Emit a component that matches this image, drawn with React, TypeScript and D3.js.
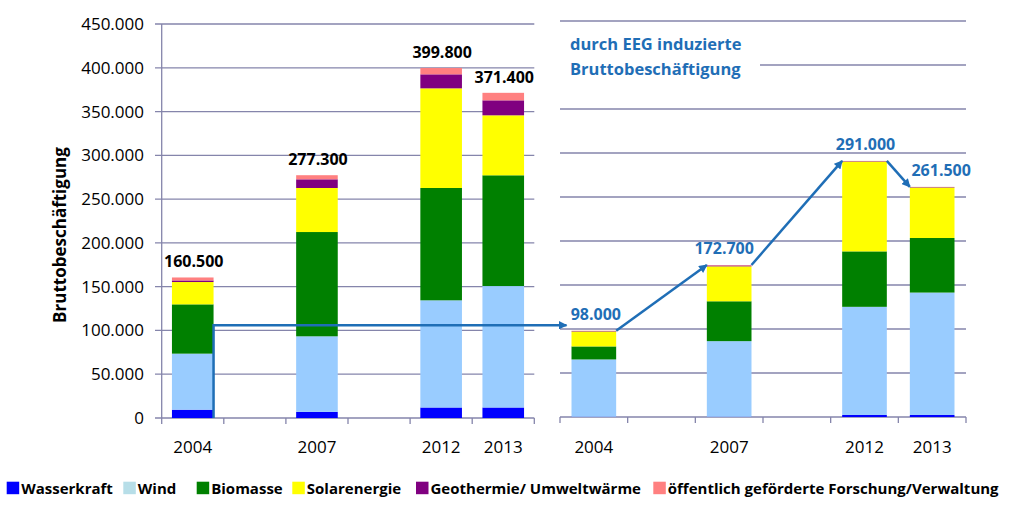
import React from "react";
import * as d3 from "d3";

// ---------- data ----------
const seriesKeys = ["wasser", "wind", "biomasse", "solar", "geo", "forschung"];
const seriesNames = [
  "Wasserkraft",
  "Wind",
  "Biomasse",
  "Solarenergie",
  "Geothermie/ Umweltwärme",
  "öffentlich geförderte Forschung/Verwaltung",
];
const barColors = ["#0000FF", "#99CCFF", "#008000", "#FFFF00", "#800080", "#FF8080"];
const legendColors = ["#0000FF", "#B7DEE8", "#008000", "#FFFF00", "#800080", "#FF8080"];

const slots = ["2004", "gap1", "2007", "gap2", "2012", "2013"];
const years = ["2004", "2007", "2012", "2013"];

// total gross employment from renewable energies (left panel)
const wasserLeft = [9500, 7000, 12000, 12000];
const windLeft = [64000, 86300, 122400, 138700];
const biomasseLeft = [56300, 119100, 128300, 126500];
const solarLeft = [25500, 50300, 113800, 68500];
const geoLeft = [1800, 9900, 16000, 17100];
const forschungLeft = [3400, 4700, 7300, 8600];
const totalsLeft = [160500, 277300, 399800, 371400];

// EEG-induced gross employment (right panel)
const wasserRight = [300, 300, 2300, 2300];
const windRight = [65100, 85900, 122900, 139100];
const biomasseRight = [14800, 45300, 63000, 62000];
const solarRight = [17000, 39700, 102100, 57400];
const geoRight = [500, 1000, 500, 500];
const forschungRight = [300, 500, 200, 200];
const totalsRight = [98000, 172700, 291000, 261500];

const yTicks = [0, 50000, 100000, 150000, 200000, 250000, 300000, 350000, 400000, 450000];
const arrowLevel = 106000; // level of the connector from the left to the right panel

const yAxisTitle = "Bruttobeschäftigung";
const panelTitle = ["durch EEG induzierte", "Bruttobeschäftigung"];

// ---------- layout ----------
const W = 1012;
const H = 508;
const FONT = "'Open Sans', sans-serif";
const GRID = "#8585AB";
const BLUE = "#1F6EB6";
const legendX = [6.7, 123.3, 196.7, 292.3, 416, 653.3];
const rightLabelDx = [2, -5, 1, 9];

const de = d3.formatLocale({ decimal: ",", thousands: ".", grouping: [3], currency: ["", "€"] });
const fmt = de.format(",.0f");

function buildTable(cols: number[][]) {
  return years.map((y, i) => {
    const row: any = { year: y };
    seriesKeys.forEach((k, j) => (row[k] = cols[j][i]));
    return row;
  });
}

const leftTable = buildTable([wasserLeft, windLeft, biomasseLeft, solarLeft, geoLeft, forschungLeft]);
const rightTable = buildTable([wasserRight, windRight, biomasseRight, solarRight, geoRight, forschungRight]);

export default function App() {
  const xL = d3.scaleBand<string>().domain(slots).range([161.7, 534.3]).paddingInner(0.33).paddingOuter(0.165);
  const yL = d3.scaleLinear().domain([0, 450000]).range([418, 24]);
  const xR = d3.scaleBand<string>().domain(slots).range([560, 966]).paddingInner(0.34).paddingOuter(0.17);
  const yR = d3.scaleLinear().domain([0, 450000]).range([417, 21]);

  const stack = d3.stack<any>().keys(seriesKeys);
  const stL = stack(leftTable);
  const stR = stack(rightTable);

  const stepL = xL.step();
  const stepR = xR.step();
  const bwL = xL.bandwidth();
  const bwR = xR.bandwidth();
  const boundsL = d3.range(slots.length + 1).map((i) => 161.7 + i * stepL);
  const boundsR = d3.range(slots.length + 1).map((i) => 560 + i * stepR);

  const bars = (st: any[], x: any, y: any, bw: number, prefix: string) =>
    st.map((s, si) =>
      s.map((d: any, i: number) => (
        <rect
          key={`${prefix}-${si}-${i}`}
          x={x(d.data.year)}
          y={y(d[1])}
          width={bw}
          height={Math.max(0, y(d[0]) - y(d[1]))}
          fill={barColors[si]}
        />
      ))
    );

  // connector arrows
  const a1 = `M${xL("2004")! + bwL},${yL(0)} V${yL(arrowLevel)} H${xR("2004")! - 5}`;
  const rightArrows = years.slice(0, -1).map((y, i) => {
    const x1 = xR(y)! + bwR;
    const y1 = yR(totalsRight[i]);
    const x2 = xR(years[i + 1])!;
    const y2 = yR(totalsRight[i + 1]);
    return `M${x1},${y1} L${x2},${y2}`;
  });

  return (
    <svg
      width={W}
      height={H}
      viewBox={`0 0 ${W} ${H}`}
      style={{ position: "absolute", left: 0, top: 0, background: "#fff", fontFamily: FONT }}
    >
      <defs>
        <marker id="ah" viewBox="0 0 10 10" refX="9" refY="5" markerWidth="3.6" markerHeight="3.4" orient="auto" markerUnits="strokeWidth">
          <path d="M0,0 L10,5 L0,10 z" fill={BLUE} />
        </marker>
      </defs>

      {/* left grid */}
      {yTicks.map((t) => (
        <g key={`gl${t}`}>
          <line x1={155} x2={534.3} y1={yL(t)} y2={yL(t)} stroke={GRID} strokeWidth={1.3} />
          <text x={144} y={yL(t) + 6} textAnchor="end" fontSize={17} fill="#000">
            {fmt(t)}
          </text>
        </g>
      ))}
      <line x1={161.7} x2={161.7} y1={yL(450000)} y2={yL(0)} stroke={GRID} strokeWidth={1.3} />
      {boundsL.map((b, i) => (
        <line key={`tl${i}`} x1={b} x2={b} y1={yL(0)} y2={yL(0) + 6} stroke={GRID} strokeWidth={1.3} />
      ))}

      {/* right grid */}
      {yTicks.map((t) => (
        <line key={`gr${t}`} x1={560} x2={966} y1={yR(t)} y2={yR(t)} stroke={GRID} strokeWidth={1.3} />
      ))}
      {boundsR.map((b, i) => (
        <line key={`tr${i}`} x1={b} x2={b} y1={yR(0)} y2={yR(0) + 6} stroke={GRID} strokeWidth={1.3} />
      ))}

      {/* bars */}
      {bars(stL, xL, yL, bwL, "L")}
      {bars(stR, xR, yR, bwR, "R")}

      {/* title box on right panel */}
      <rect x={560} y={30} width={200} height={52} fill="#fff" />
      {panelTitle.map((t, i) => (
        <text key={t} x={570} y={50 + i * 25} fontSize={16.5} fontWeight="bold" fill={BLUE}>
          {t}
        </text>
      ))}

      {/* y axis title */}
      <text transform="translate(66,235) rotate(-90)" textAnchor="middle" fontSize={17} fontWeight="bold" fill="#000">
        {yAxisTitle}
      </text>

      {/* x labels */}
      {years.map((y) => (
        <text key={`xl${y}`} x={xL(y)! + bwL / 2} y={453} textAnchor="middle" fontSize={17} fill="#000">
          {y}
        </text>
      ))}
      {years.map((y) => (
        <text key={`xr${y}`} x={xR(y)! + bwR / 2} y={453} textAnchor="middle" fontSize={17} fill="#000">
          {y}
        </text>
      ))}

      {/* total labels */}
      {years.map((y, i) => (
        <text key={`tl${y}`} x={xL(y)! + bwL / 2 + 1} y={yL(totalsLeft[i]) - 10} textAnchor="middle" fontSize={16} fontWeight="bold" fill="#000">
          {fmt(totalsLeft[i])}
        </text>
      ))}
      {years.map((y, i) => (
        <text key={`tr${y}`} x={xR(y)! + bwR / 2 + rightLabelDx[i]} y={yR(totalsRight[i]) - 11} textAnchor="middle" fontSize={16} fontWeight="bold" fill={BLUE}>
          {fmt(totalsRight[i])}
        </text>
      ))}

      {/* arrows */}
      <path d={a1} fill="none" stroke={BLUE} strokeWidth={2.5} markerEnd="url(#ah)" />
      {rightArrows.map((d, i) => (
        <path key={`ar${i}`} d={d} fill="none" stroke={BLUE} strokeWidth={2.5} markerEnd="url(#ah)" />
      ))}

      {/* legend */}
      {seriesNames.map((n, i) => (
        <g key={n}>
          <rect x={legendX[i]} y={481.7} width={12.5} height={12.5} fill={legendColors[i]} />
          <text x={legendX[i] + 14.5} y={493.5} fontSize={15} fontWeight="bold" fill="#000">
            {n}
          </text>
        </g>
      ))}
    </svg>
  );
}
